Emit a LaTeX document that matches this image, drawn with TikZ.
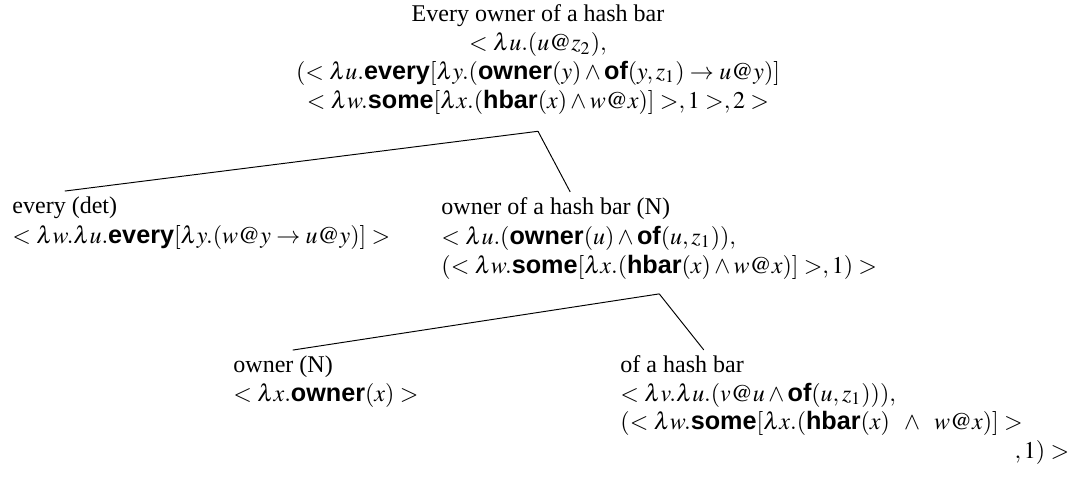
\documentclass[tikz,border=0pt]{standalone}
\usepackage{mathptmx}
\usepackage{fontspec}
\setmainfont{Liberation Serif}
\setsansfont{Liberation Sans}[Scale=1.05]
\newcommand{\pred}[1]{\textsf{\bfseries #1}}
\tikzset{
  cat/.style={anchor=base west,inner xsep=0pt,inner ysep=2pt},
  sem/.style={anchor=base west,inner sep=0pt,align=left},
}
\begin{document}
\begin{tikzpicture}[x=0.4167pt,y=-0.4167pt]
\useasboundingbox (0,0) rectangle (1085,482);
\node[anchor=base,align=center,inner xsep=0pt,inner ysep=7pt] (root) at (538,108)
  {Every owner of a hash bar\\
   $<\lambda u.(u@z_2),$\\
   $(<\lambda u.\pred{every}[\lambda y.(\pred{owner}(y)\wedge\pred{of}(y,z_1)\rightarrow u@y)]$\\
   $<\lambda w.\pred{some}[\lambda x.(\pred{hbar}(x)\wedge w@x)]>,1>,2>$};
\node[cat] (det) at (12,213) {every (det)};
\node[sem] (detsem) at (12,243)
  {$<\lambda w.\lambda u.\pred{every}[\lambda y.(w@y\rightarrow u@y)]>$};
\node[cat] (nbar) at (441,214) {owner of a hash bar (N)};
\node[sem,inner ysep=6pt] (nbarsem) at (441,273)
  {$<\lambda u.(\pred{owner}(u)\wedge\pred{of}(u,z_1)),$\\
   $(<\lambda w.\pred{some}[\lambda x.(\pred{hbar}(x)\wedge w@x)]>,1)>$};
\node[cat] (noun) at (233,372) {owner (N)};
\node[sem] (nounsem) at (233,401) {$<\lambda x.\pred{owner}(x)>$};
\node[cat] (pp) at (620,372) {of a hash bar};
\node[sem,text width=187pt] (ppsem) at (620,401)
  {\mbox{$<\lambda v.\lambda u.(v@u\wedge\pred{of}(u,z_1))),$}\\
   \mbox{$(<\lambda w.\pred{some}[\lambda x.(\pred{hbar}(x)\;\;\wedge\;\;w@x)]>$}\\
   \hspace*{\fill}$,1)>$};
\draw (root.south) -- (det.north);
\draw (root.south) -- ([xshift=6pt]nbar.north);
\draw (nbarsem.south) -- ([xshift=4pt]noun.north);
\draw (nbarsem.south) -- ([xshift=9pt]pp.north);
\end{tikzpicture}
\end{document}
